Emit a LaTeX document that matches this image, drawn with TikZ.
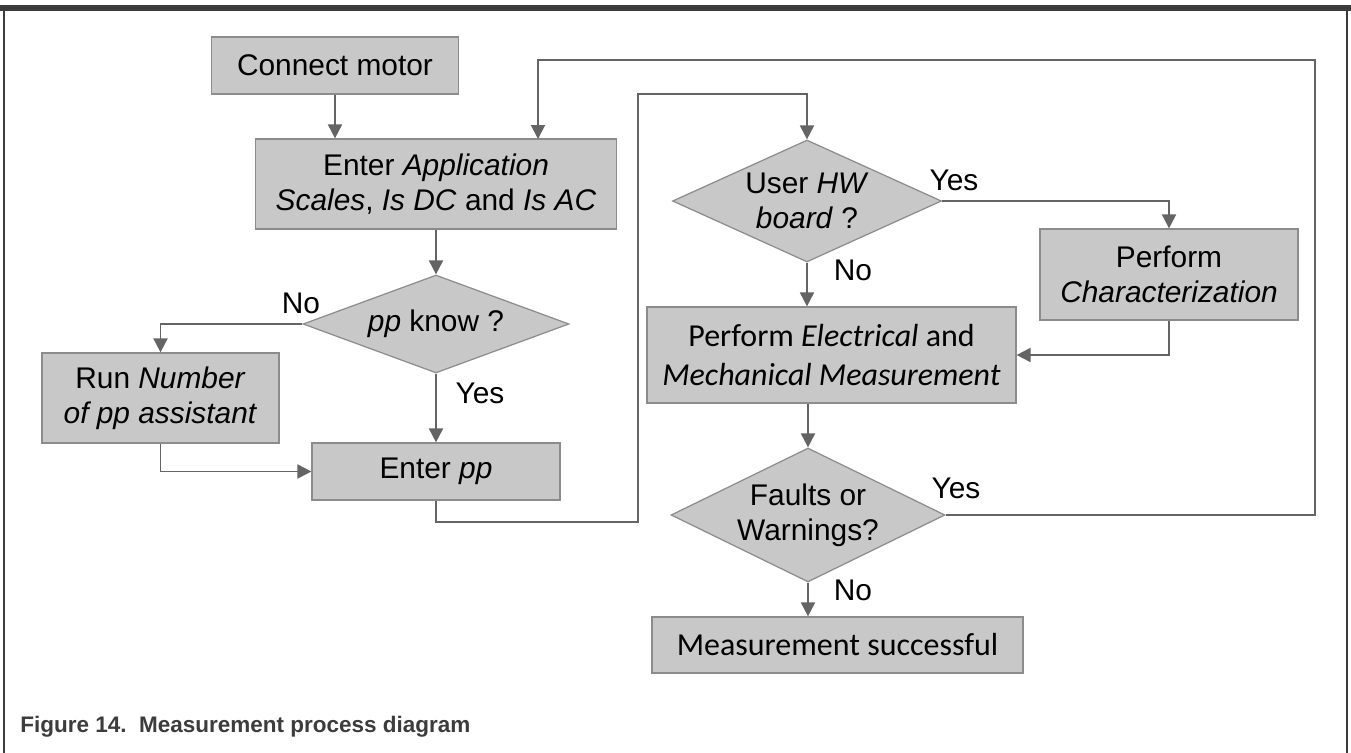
\documentclass[tikz,border=0pt]{standalone}
\usepackage{fontspec}
\setmainfont{Liberation Sans}
\newfontfamily\calfont{Carlito}
\usepackage{tikz}
\usetikzlibrary{arrows.meta, shapes.geometric, positioning}
\definecolor{boxgray}{RGB}{200,200,200}
\definecolor{edgegray}{RGB}{140,140,140}
\definecolor{linegray}{RGB}{100,100,100}
\definecolor{framegray}{RGB}{60,60,60}
\tikzstyle{process}=[rectangle, draw=edgegray, fill=boxgray, line width=0.7pt, align=center, inner sep=0pt, font=\fontsize{17}{20}\selectfont]
\tikzstyle{decision}=[diamond, aspect=2.1, draw=edgegray, fill=boxgray, line width=0.7pt, align=center, inner sep=0pt, font=\fontsize{17}{20}\selectfont]
\tikzstyle{flow}=[draw=linegray, line width=1.1pt, -{Triangle[length=0.28cm, width=0.28cm]}]
\tikzstyle{link}=[draw=linegray, line width=1.1pt]
\tikzstyle{answer}=[inner sep=0pt, font=\fontsize{17}{20}\selectfont]

\begin{document}
\begin{tikzpicture}[x=0.02cm, y=-0.02cm]
        \useasboundingbox (0,0) rectangle (1351,753);
        \draw[framegray, line width=3.2pt] (0,8) -- (1351,8);
        \draw[framegray, line width=1.1pt] (4,8) -- (4,753);
        \draw[framegray, line width=1.1pt] (1347,8) -- (1347,753);

        \node[process, minimum width=4.94cm, minimum height=1.14cm] (motor) at (335,65.5) {Connect motor};
        \node[process, minimum width=7.22cm, minimum height=1.8cm] (app) at (436,184) {Enter \textit{Application}\\\textit{Scales}, \textit{Is DC} and \textit{Is AC}};
        \node[decision, minimum width=5.32cm, minimum height=1.96cm] (ppknow) at (436,324) {\textit{pp} know ?};
        \node[process, minimum width=4.74cm, minimum height=1.8cm] (runpp) at (160.5,398) {Run \textit{Number}\\\textit{of pp assistant}};
        \node[process, minimum width=4.96cm, minimum height=1.14cm] (enterpp) at (436,471.5) {Enter \textit{pp}};
        \node[decision, minimum width=5.38cm, minimum height=2.44cm] (hw) at (807,201) {User \textit{HW}\\\textit{board} ?};
        \node[process, minimum width=5.16cm, minimum height=1.82cm] (charact) at (1169,274.5) {Perform\\\textit{Characterization}};
        \node[process, minimum width=7.38cm, minimum height=1.92cm, font=\calfont\fontsize{18.2}{22}\selectfont] (meas) at (831.5,355) {Perform \textit{Electrical} and\\\textit{Mechanical Measurement}};
        \node[decision, minimum width=5.34cm, minimum height=2.68cm] (faults) at (808,515) {Faults or\\Warnings?};
        \node[process, minimum width=7.42cm, minimum height=1.12cm, font=\calfont\fontsize{18.2}{22}\selectfont] (success) at (837.5,645) {Measurement successful};

        \coordinate (lowjog) at (638,522);
        \coordinate (highjog) at (638,94);
        \coordinate (loopr) at (1315,60);
        \coordinate (appin) at (538,139);

        \draw[flow] (motor) -- (motor |- app.north);
        \draw[flow] (app) -- (ppknow);
        \draw[flow] (ppknow.west) -| (runpp.north);
        \draw[flow] (ppknow) -- (enterpp);
        \draw[flow] (runpp.south) |- (enterpp.west);
        \draw[flow] (enterpp.south) |- (lowjog) -- (highjog) -| (hw.north);
        \draw[flow] (hw.east) -| (charact.north);
        \draw[flow] (hw.south) -- (hw.south |- meas.north);
        \draw[flow] (charact.south) |- (meas.east);
        \draw[flow] (faults.north |- meas.south) -- (faults.north);
        \draw[flow] (faults.south) -- (faults.south |- success.north);
        \draw[flow] (faults.east) -| (loopr) -| (appin);

        \node[answer] (ppno) at (301,303) {No};
        \node[answer] (ppyes) at (480,393) {Yes};
        \node[answer] (hwyes) at (954,180) {Yes};
        \node[answer] (hwno) at (853,270) {No};
        \node[answer] (faultyes) at (956,488) {Yes};
        \node[answer] (faultno) at (853,590) {No};

        \node[anchor=west, inner sep=0pt, text=framegray, font=\bfseries\fontsize{12.8}{15}\selectfont] (caption) at (20,727) {Figure 14.\ \ Measurement process diagram};
\end{tikzpicture}
\end{document}
